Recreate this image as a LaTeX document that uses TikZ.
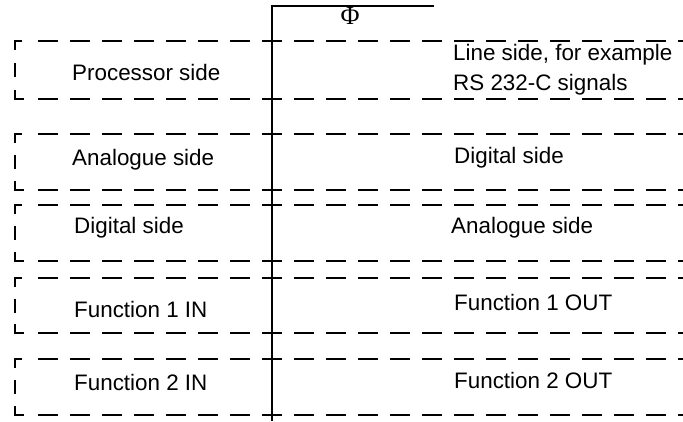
\documentclass[tikz,border=0pt]{standalone}
\usepackage{fontspec}
\setmainfont{Liberation Sans}
\newfontfamily\phifont{Liberation Serif}
\begin{document}
\begin{tikzpicture}[x=1pt,y=-1pt,
  rowline/.style={line width=1.2pt,dash pattern=on 20pt off 12pt},
  cornerline/.style={line width=1.2pt},
  solidline/.style={line width=1.4pt},
  lbl/.style={anchor=base west,inner sep=0pt,font=\fontsize{22.4}{26}\selectfont}]
\useasboundingbox (0,0) rectangle (683,421);
\fill[white] (0,0) rectangle (683,421);
% rows: top, bottom
\foreach \t/\b in {41/99,134/190,205/261,278/333,359/415}{
  \draw[rowline] (38,\t) -- (683,\t);
  \draw[rowline] (38,\b) -- (683,\b);
  \draw[cornerline] (22,\t) -- (15,\t) -- (15,\t+9);
  \draw[cornerline] (15,\b-9) -- (15,\b) -- (24,\b);
  \draw[cornerline] (15,{(\t+\b)/2-7}) -- (15,{(\t+\b)/2+7});
}
% central solid line
\coordinate (vtop) at (272,6);
\coordinate (vbot) at (272,421);
\coordinate (htop) at (434,6);
\draw[solidline] (vbot) -- (vtop) -- (htop);
\node[inner sep=0pt,font=\phifont\fontsize{26}{30}\selectfont] (phi) at (350,16) {Φ};
% left labels
\node[lbl] (l1) at (72,80) {Processor side};
\node[lbl] (l2) at (72,165) {Analogue side};
\node[lbl] (l3) at (74,233) {Digital side};
\node[lbl] (l4) at (74,317) {Function 1 IN};
\node[lbl] (l5) at (74,390) {Function 2 IN};
% right labels
\node[lbl] (r1a) at (453,60) {Line side, for example};
\node[lbl] (r1b) at (453,90) {RS 232-C signals};
\node[lbl] (r2) at (454,163) {Digital side};
\node[lbl] (r3) at (451,233) {Analogue side};
\node[lbl] (r4) at (454,310) {Function 1 OUT};
\node[lbl] (r5) at (454,388) {Function 2 OUT};
\end{tikzpicture}
\end{document}
